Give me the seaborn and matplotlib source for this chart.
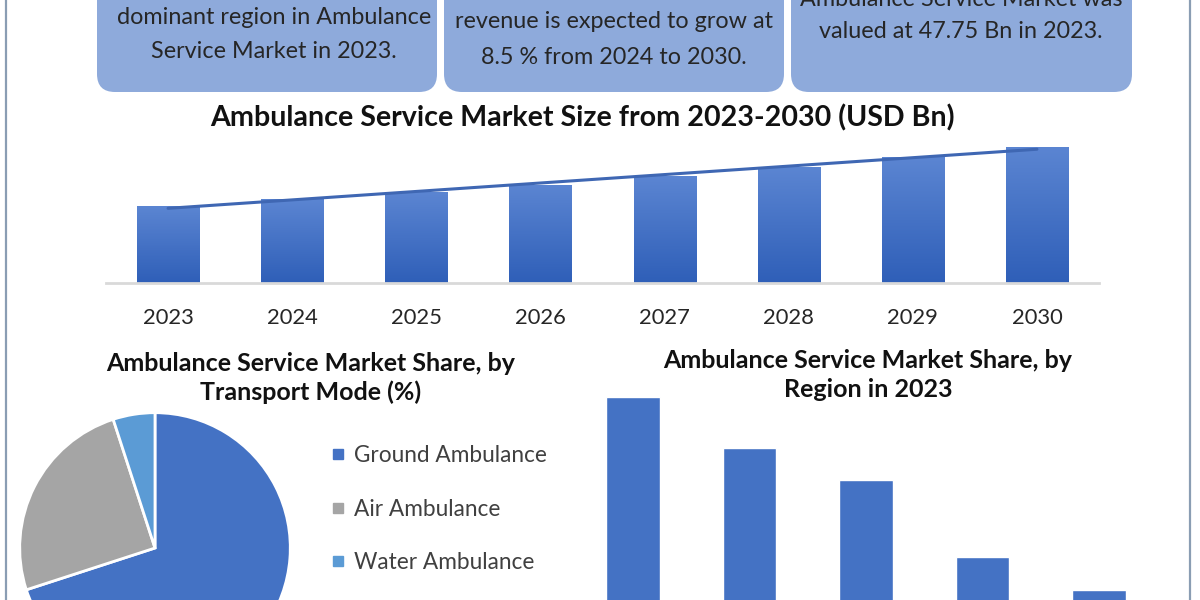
import numpy as np
import seaborn as sns
import matplotlib.pyplot as plt
from matplotlib.patches import FancyBboxPatch
from matplotlib.lines import Line2D
from matplotlib.colors import LinearSegmentedColormap

# market size (USD Bn)
years = ["2023", "2024", "2025", "2026", "2027", "2028", "2029", "2030"]
market_size = [47.75, 51.8, 56.2, 61.0, 66.2, 71.8, 77.9, 84.5]

# share by transport mode (%)
modes = ["Ground Ambulance", "Air Ambulance", "Water Ambulance"]
mode_share = [70, 25, 5]
mode_colors = ["#4472c4", "#a5a5a5", "#5b9bd5"]

# share by region, 2023
regions = ["North America", "Europe", "Asia Pacific", "Middle East and Africa", "South America"]
region_share = [33.4, 26.4, 22.0, 11.4, 6.8]

box1_lines = ["dominant region in Ambulance", "Service Market in 2023."]
box2_lines = ["revenue is expected to grow at", "8.5 % from 2024 to 2030."]
box3_lines = ["Ambulance Service Market was", "valued at 47.75 Bn in 2023."]

sns.set_theme(style="white")
plt.rcParams["font.family"] = ["Lato", "DejaVu Sans"]

W, H = 1200, 600
fig = plt.figure(figsize=(12, 6), dpi=100)
fig.patch.set_facecolor("white")


def px_axes(left, top, right, bottom):
    return fig.add_axes([left / W, 1 - bottom / H, (right - left) / W, (bottom - top) / H])


# background layer in pixel units
bg = fig.add_axes([0, 0, 1, 1], zorder=0)
bg.set_xlim(0, W)
bg.set_ylim(H, 0)
bg.axis("off")

for x in (6, 1190):
    bg.plot([x, x], [0, H], color="#8a9db3", lw=1.6)

boxes = [(97, 437, box1_lines, 274, [18, 51]),
         (444, 784, box2_lines, 614, [22, 57]),
         (791, 1132, box3_lines, 961, [0, 32])]
for x0, x1, lines, cx, ys in boxes:
    bg.add_patch(FancyBboxPatch((x0, -40), x1 - x0, 132,
                                boxstyle="round,pad=0,rounding_size=18",
                                fc="#8eaadb", ec="none"))
    for txt, y in zip(lines, ys):
        bg.text(cx, y, txt, ha="center", va="center", fontsize=16.8, color="#262626")

bg.text(582, 118, "Ambulance Service Market Size from 2023-2030 (USD Bn)",
        ha="center", va="center", fontsize=20.6, fontweight="bold", color="#111111")
bg.text(311, 378, "Ambulance Service Market Share, by\nTransport Mode (%)",
        ha="center", va="center", fontsize=18, fontweight="bold", color="#111111",
        linespacing=1.25)
bg.text(868, 375, "Ambulance Service Market Share, by\nRegion in 2023",
        ha="center", va="center", fontsize=18, fontweight="bold", color="#111111",
        linespacing=1.3)

# top bar chart
ax1 = px_axes(106, 140, 1099, 283)
sns.barplot(x=years, y=market_size, color="#4472c4", saturation=1, width=0.5, ax=ax1)
grad = LinearSegmentedColormap.from_list("g", ["#2f5fb8", "#5b85d2"])
for p in ax1.patches:
    x, w, h = p.get_x(), p.get_width(), p.get_height()
    im = ax1.imshow(np.linspace(0, 1, 100).reshape(-1, 1), cmap=grad, origin="lower",
                    extent=[x, x + w, 0, h], aspect="auto", zorder=1.5)
    im.set_clip_path(p)
sns.regplot(x=np.arange(len(years)), y=market_size, scatter=False, ci=None, ax=ax1,
            line_kws=dict(color="#3f67b3", lw=2.2, zorder=3))
ax1.set_xlim(-0.5, len(years) - 0.5)
ax1.set_ylim(0, 88.7)
ax1.set_xlabel("")
ax1.set_ylabel("")
ax1.set_yticks([])
sns.despine(ax=ax1, left=True)
ax1.spines["bottom"].set_bounds(-0.5, len(years) - 0.5)
ax1.spines["bottom"].set_color("#d9d9d9")
ax1.spines["bottom"].set_linewidth(2)
ax1.tick_params(axis="x", length=0, pad=18, labelsize=15.8, labelcolor="#262626")
ax1.patch.set_alpha(0)

# pie chart
ax2 = px_axes(17, 410, 293, 686)
ax2.pie(mode_share, colors=mode_colors, startangle=90, counterclock=False,
        radius=1, wedgeprops=dict(edgecolor="white", linewidth=2))
ax2.set_xlim(-1.02, 1.02)
ax2.set_ylim(-1.02, 1.02)
ax2.set_aspect("auto")

handles = [Line2D([], [], marker="s", ls="", color=c, markersize=7) for c in mode_colors]
fig.legend(handles, modes, loc="center left", bbox_to_anchor=(309 / W, 1 - 509 / H),
           frameon=False, fontsize=16.3, labelspacing=1.42, handletextpad=0.3,
           handlelength=0.8, labelcolor="#404040")

# region bar chart (category labels sit below the visible area)
ax3 = px_axes(575, 380, 1157, 640)
sns.barplot(x=regions, y=region_share, color="#4472c4", saturation=1, width=0.46, ax=ax3)
ax3.set_ylim(0, 35.7)
ax3.set_xlabel("")
ax3.set_ylabel("")
ax3.set_yticks([])
ax3.tick_params(axis="x", labelbottom=False, length=0)
sns.despine(ax=ax3, left=True)
ax3.patch.set_alpha(0)

fig.savefig("out.png", dpi=100, facecolor="white")
